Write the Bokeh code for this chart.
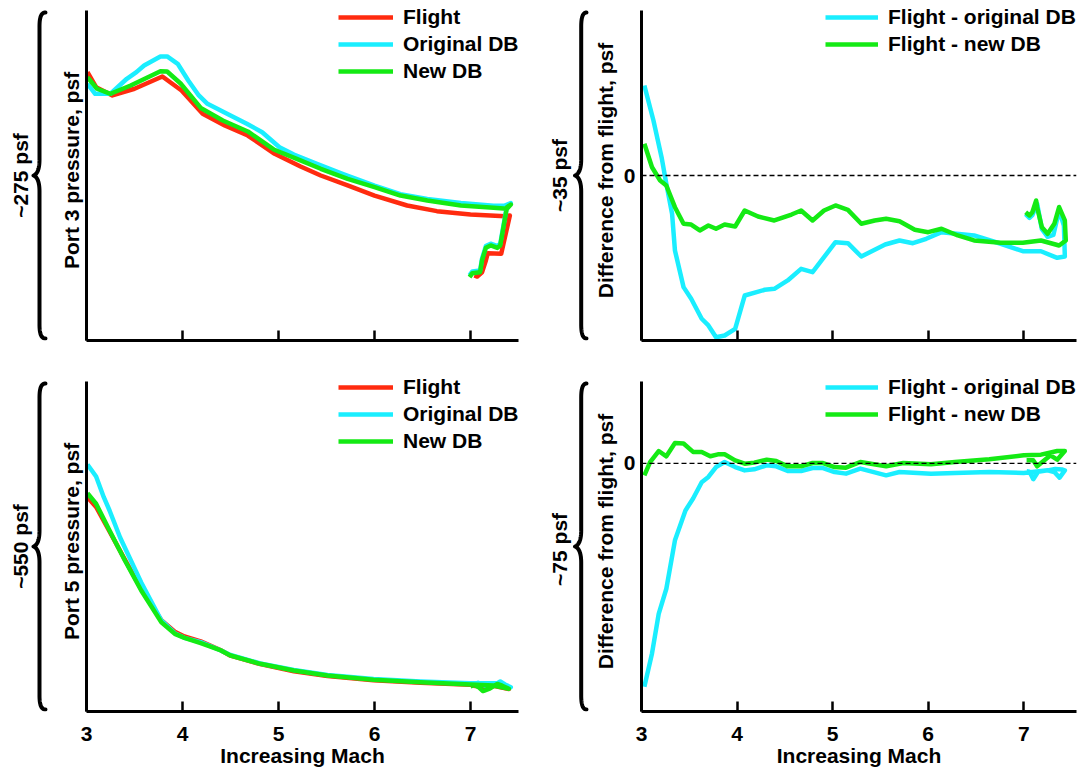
import numpy as np
from bokeh.plotting import figure
from bokeh.layouts import row, column
from bokeh.models import Span, Legend, LegendItem, FixedTicker, Range1d
from bokeh.core.properties import value
from bokeh.embed import file_html
from bokeh.resources import INLINE

# ---------------- data ----------------
mach_ticks = [3, 4, 5, 6, 7]

# Port 3 pressure, psf (span ~275 psf)
p3_flight_m = [3.01, 3.10, 3.27, 3.50, 3.79, 3.99, 4.21, 4.44, 4.68, 4.96, 5.23, 5.44, 5.72, 6.00, 6.34, 6.65,
               7.00, 7.36, 7.41, 7.32, 7.18, 7.16, 7.12, 7.07, 7.04]
p3_flight = [223.6, 211.1, 204.2, 209.8, 220.0, 208.3, 188.9, 179.2, 170.8, 155.6, 145.0, 137.5, 129.2, 120.8,
             112.5, 107.8, 105.0, 103.6, 104.2, 72.2, 72.8, 66.7, 56.9, 53.3, 54.2]

p3_orig_m = [3.01, 3.09, 3.25, 3.42, 3.52, 3.60, 3.77, 3.84, 3.95, 4.06, 4.17, 4.26, 4.50, 4.67, 4.83, 5.01,
             5.16, 5.40, 5.68, 6.00, 6.27, 6.55, 6.90, 7.24, 7.35, 7.42, 7.38, 7.31, 7.28, 7.21, 7.16, 7.12,
             7.10, 7.02, 6.99]
p3_orig = [213.9, 205.6, 205.6, 218.1, 223.6, 229.2, 236.7, 236.7, 230.6, 216.7, 204.2, 197.2, 187.5, 180.6,
           173.6, 161.1, 155.0, 147.2, 138.5, 129.0, 122.0, 118.0, 114.5, 112.3, 112.3, 114.5, 112.5, 80.7,
           78.7, 80.7, 78.7, 68.2, 58.4, 57.6, 54.3]

p3_new_m = [3.01, 3.11, 3.25, 3.46, 3.64, 3.77, 3.84, 3.98, 4.19, 4.42, 4.68, 4.95, 5.19, 5.44, 5.72, 6.00,
            6.27, 6.55, 6.90, 7.24, 7.38, 7.42, 7.38, 7.31, 7.28, 7.21, 7.16, 7.12, 7.10, 7.02, 6.99]
p3_new = [219.4, 209.8, 205.6, 212.5, 219.4, 224.4, 224.2, 214.2, 193.8, 183.3, 174.2, 159.2, 151.4, 143.1,
          134.7, 127.8, 120.8, 116.7, 112.5, 110.6, 109.7, 113.3, 111.1, 79.2, 77.2, 79.2, 77.2, 66.7, 56.9,
          56.1, 52.8]

# Difference from flight at port 3, psf (span ~35 psf)
d3_orig_m = [3.03, 3.125, 3.21, 3.26, 3.32, 3.35, 3.44, 3.52, 3.63, 3.70, 3.78, 3.87, 3.98, 4.08, 4.29, 4.39,
             4.53, 4.67, 4.79, 4.91, 5.03, 5.16, 5.30, 5.55, 5.70, 5.84, 5.98, 6.14, 6.48, 6.76, 6.99, 7.18,
             7.35, 7.43, 7.42, 7.37, 7.31, 7.25, 7.19, 7.14, 7.09, 7.06, 7.02]
d3_orig = [9.54, 5.83, 1.94, -0.88, -4.06, -7.95, -11.84, -13.07, -15.19, -15.9, -17.15, -16.97, -16.26,
           -12.73, -12.12, -12.02, -11.13, -9.9, -10.25, -8.66, -7.07, -7.18, -8.59, -7.32, -6.89, -7.18,
           -6.71, -6.01, -6.36, -7.24, -8.03, -8.03, -8.73, -8.59, -5.3, -3.7, -6.3, -6.5, -5.7, -3.0, -4.2,
           -4.5, -4.1]

d3_new_m = [3.03, 3.11, 3.195, 3.26, 3.35, 3.44, 3.52, 3.61, 3.70, 3.78, 3.87, 3.98, 4.08, 4.22, 4.39, 4.57,
            4.67, 4.79, 4.91, 5.03, 5.16, 5.30, 5.44, 5.56, 5.70, 5.86, 6.00, 6.14, 6.31, 6.48, 6.76, 6.99,
            7.18, 7.37, 7.44, 7.43, 7.37, 7.32, 7.25, 7.19, 7.14, 7.13, 7.09, 7.06, 7.02]
d3_new = [3.36, 0.88, -0.53, -1.06, -3.36, -5.12, -5.2, -5.83, -5.3, -5.65, -5.2, -5.41, -3.71, -4.35, -4.77,
          -4.14, -3.71, -4.77, -3.71, -3.18, -3.64, -5.12, -4.77, -4.59, -4.85, -5.76, -6.01, -5.65, -6.36,
          -6.89, -7.14, -7.14, -6.89, -7.42, -6.89, -4.77, -3.36, -5.12, -6.18, -5.48, -3.36, -2.65, -3.89,
          -4.24, -3.89]

# Port 5 pressure, psf (span ~550 psf)
p5_flight_m = [3.01, 3.10, 3.24, 3.40, 3.57, 3.78, 3.92, 4.02, 4.19, 4.40, 4.50, 4.81, 5.16, 5.51, 5.99, 6.48,
               7.00, 7.24, 7.40, 7.33, 7.25, 7.15, 7.08, 7.03]
p5_flight = [357, 341, 300, 253, 204, 152, 133, 125, 117, 102, 93, 79, 67, 59, 52, 48, 44.5, 43, 37.5, 41, 43,
             40, 42, 43]

p5_orig_m = [3.01, 3.10, 3.18, 3.24, 3.35, 3.57, 3.78, 3.92, 4.02, 4.19, 4.40, 4.50, 4.81, 5.16, 5.51, 5.99,
             6.48, 7.00, 7.28, 7.42, 7.36, 7.31, 7.26, 7.15, 7.08, 7.04]
p5_orig = [411.7, 391.7, 357.2, 335.0, 290.0, 215.0, 151.7, 130.5, 122.8, 115.5, 101.7, 94.2, 80.0, 69.2,
           60.8, 54.2, 50.0, 47.2, 47.2, 40.5, 45, 50, 45, 43, 48, 44]

p5_new_m = [3.01, 3.10, 3.24, 3.40, 3.57, 3.78, 3.92, 4.02, 4.19, 4.40, 4.50, 4.81, 5.16, 5.51, 5.99, 6.48,
            7.00, 7.24, 7.40, 7.33, 7.28, 7.20, 7.13, 7.09, 7.04, 7.00]
p5_new = [363.8, 346.2, 301.7, 251.7, 201.7, 148.8, 129.5, 122.8, 113.8, 101.7, 93.3, 79.5, 68.3, 60.0, 52.8,
          48.8, 45.0, 43.3, 37.8, 43, 46, 38, 34, 40, 44, 42]

# Difference from flight at port 5, psf (span ~75 psf)
d5_orig_m = [3.03, 3.11, 3.18, 3.26, 3.35, 3.46, 3.54, 3.63, 3.70, 3.78, 3.87, 3.98, 4.08, 4.18, 4.31, 4.41,
             4.53, 4.67, 4.79, 4.90, 5.02, 5.14, 5.29, 5.56, 5.70, 6.03, 6.28, 6.64, 7.00, 7.25, 7.32, 7.375,
             7.43, 7.40, 7.33, 7.25, 7.15, 7.10, 7.06, 7.03]
d5_orig = [-50.8, -43.2, -34.2, -28.5, -17.5, -10.7, -8.0, -4.3, -3.1, -0.84, 0.3, -0.84, -1.6, -1.36, -0.45,
           -0.68, -1.75, -1.75, -1.07, -1.07, -1.98, -2.34, -1.2, -2.73, -1.98, -2.34, -2.2, -1.98, -2.2,
           -1.59, -1.98, -3.25, -1.59, -1.4, -1.3, -1.6, -1.9, -3.6, -1.9, -1.8]

d5_new_m = [3.03, 3.09, 3.18, 3.26, 3.35, 3.44, 3.54, 3.63, 3.72, 3.80, 3.87, 3.98, 4.08, 4.18, 4.31, 4.41,
            4.53, 4.67, 4.79, 4.90, 5.02, 5.14, 5.29, 5.56, 5.74, 6.03, 6.28, 6.64, 7.00, 7.18, 7.35, 7.43,
            7.35, 7.28, 7.14, 7.10, 7.03]
d5_new = [-2.73, 0.3, 2.8, 1.6, 4.6, 4.5, 2.6, 2.6, 1.6, 2.05, 2.05, 0.68, -0.07, 0.16, 0.84, 0.52, -0.68,
          -0.68, 0.07, 0.07, -0.84, -0.98, 0.3, -0.68, 0.07, -0.23, 0.3, 0.91, 1.82, 1.98, 2.8, 2.8, 0.84,
          1.82, -0.68, 0.68, 0.68]

# ---------------- styling ----------------
FONT = "Liberation Sans"
FS = "21px"
RED = "#ff2b0f"
CYAN = "#1aeeff"
GREEN = "#14ea14"
LW = 4.5
AXIS_H = 330          # height of the drawn axes
PAD_TOP = 10          # empty strip above the axes (inside the frame, room for the legend)
FRAME_H = AXIS_H + PAD_TOP

ROW1 = dict(h=371, top=0, bottom=31)
ROW2 = dict(h=401, top=0, bottom=61)

W_B1, W_L, W_B2, W_R = 48, 490, 52, 492
L_BORDER_L, L_BORDER_R = 38, 20
R_BORDER_L, R_BORDER_R = 49, 6


def make_panel(width, rowcfg, mbl, mbr, x_end, y_lo, y_hi, y_label, y_ticks, show_x_labels):
    y_top = y_lo + (y_hi - y_lo) * FRAME_H / AXIS_H
    p = figure(width=width, height=rowcfg["h"], x_range=Range1d(3, x_end), y_range=Range1d(y_lo, y_top),
               output_backend="svg", toolbar_location=None,
               min_border_left=mbl, min_border_right=mbr,
               min_border_top=rowcfg["top"], min_border_bottom=rowcfg["bottom"])
    p.grid.visible = False
    p.outline_line_color = None
    xa = p.xaxis[0]
    ya = p.yaxis[0]
    xa.ticker = FixedTicker(ticks=mach_ticks)
    xa.major_tick_in = 10
    xa.major_tick_out = 0
    xa.minor_tick_in = 0
    xa.minor_tick_out = 0
    xa.axis_line_width = 3
    xa.major_tick_line_width = 2.5
    xa.major_label_text_font = FONT
    xa.major_label_text_font_size = FS
    xa.major_label_text_font_style = "bold"
    xa.major_label_text_color = "black"
    if show_x_labels:
        xa.major_label_standoff = 15
        xa.axis_label = "Increasing Mach"
        xa.axis_label_text_font = FONT
        xa.axis_label_text_font_size = FS
        xa.axis_label_text_font_style = "bold"
        xa.axis_label_text_color = "black"
        xa.axis_label_standoff = 0
    else:
        xa.major_label_standoff = 6
        xa.major_label_text_color = None
    ya.bounds = (y_lo, y_hi)
    ya.ticker = FixedTicker(ticks=y_ticks)
    ya.major_tick_in = 0
    ya.major_tick_out = 0
    ya.minor_tick_in = 0
    ya.minor_tick_out = 0
    ya.axis_line_width = 3
    ya.major_label_text_font = FONT
    ya.major_label_text_font_size = FS
    ya.major_label_text_font_style = "bold"
    ya.major_label_text_color = "black"
    ya.major_label_standoff = 6
    ya.axis_label = y_label
    ya.axis_label_text_font = FONT
    ya.axis_label_text_font_size = FS
    ya.axis_label_text_font_style = "bold"
    ya.axis_label_text_color = "black"
    ya.axis_label_standoff = 4
    return p


def add_legend(p, items, vx, first_row_from_axis_top, glyph_w, standoff):
    item_h = 24
    gap = 3
    n = len(items)
    total = n * item_h + (n - 1) * gap
    top_off = PAD_TOP + first_row_from_axis_top - item_h / 2
    vy = FRAME_H - (top_off + total)
    leg = Legend(items=[LegendItem(label=lab, renderers=[r]) for lab, r in items],
                 location=(vx, vy), orientation="vertical",
                 glyph_width=glyph_w, glyph_height=20, label_height=20, label_standoff=standoff,
                 spacing=gap, padding=0, margin=0, border_line_color=None, background_fill_alpha=0,
                 label_text_font=FONT, label_text_font_size=FS, label_text_font_style="bold",
                 label_text_color="black")
    p.add_layout(leg)


def cubic(p0, p1, p2, p3, n=24):
    t = np.linspace(0, 1, n)[:, None]
    p0, p1, p2, p3 = (np.array(v, dtype=float) for v in (p0, p1, p2, p3))
    return (1 - t) ** 3 * p0 + 3 * (1 - t) ** 2 * t * p1 + 3 * (1 - t) * t ** 2 * p2 + t ** 3 * p3


def make_brace(width, rowcfg, stroke_x, curl_x, tip_x, text_x, text):
    b = figure(width=width, height=rowcfg["h"], x_range=Range1d(0, width), y_range=Range1d(0, FRAME_H),
               x_axis_type=None, y_axis_type=None, output_backend="svg", toolbar_location=None,
               min_border_left=0, min_border_right=0,
               min_border_top=rowcfg["top"], min_border_bottom=rowcfg["bottom"])
    b.grid.visible = False
    b.outline_line_color = None
    H = AXIS_H
    m = H / 2
    segs = [
        cubic((curl_x, H - 2), (stroke_x + 2, H - 2), (stroke_x, H - 6), (stroke_x, H - 16)),
        cubic((stroke_x, m + 16), (stroke_x, m + 5), (tip_x + 3, m + 1), (tip_x, m)),
        cubic((tip_x, m), (tip_x + 3, m - 1), (stroke_x, m - 5), (stroke_x, m - 16)),
        cubic((stroke_x, 16), (stroke_x, 6), (stroke_x + 2, 2), (curl_x, 2)),
    ]
    pts = np.vstack(segs)
    b.line(pts[:, 0], pts[:, 1], line_width=4, line_color="black", line_cap="round", line_join="round")
    b.text(x=[text_x], y=[m], text=[text], angle=np.pi / 2, text_align="center", text_baseline="middle",
           text_font=value(FONT), text_font_size=FS, text_font_style="bold", text_color="black")
    return b


def zero_line(p):
    p.add_layout(Span(location=0, dimension="width", line_color="black", line_width=1.3, line_dash="5 3"))


L_XEND = 7.5
R_XEND = 3 + 437 / 96

# ---- top-left: port 3 ----
tl = make_panel(W_L, ROW1, L_BORDER_L, L_BORDER_R, L_XEND, 0, 275, "Port 3 pressure, psf", [], False)
r1 = tl.line(p3_flight_m, p3_flight, line_color=RED, line_width=LW, line_join="round")
r2 = tl.line(p3_orig_m, p3_orig, line_color=CYAN, line_width=LW, line_join="round")
r3 = tl.line(p3_new_m, p3_new, line_color=GREEN, line_width=LW, line_join="round")
add_legend(tl, [("Flight", r1), ("Original DB", r2), ("New DB", r3)], 252, 7, 55, 10)

# ---- top-right: port 3 difference ----
tr = make_panel(W_R, ROW1, R_BORDER_L, R_BORDER_R, R_XEND, -17.5, 17.5, "Difference from flight, psf", [0], False)
zero_line(tr)
s1 = tr.line(d3_orig_m, d3_orig, line_color=CYAN, line_width=LW, line_join="round")
s2 = tr.line(d3_new_m, d3_new, line_color=GREEN, line_width=LW, line_join="round")
add_legend(tr, [("Flight - original DB", s1), ("Flight - new DB", s2)], 184, 7, 53, 10)

# ---- bottom-left: port 5 ----
bl = make_panel(W_L, ROW2, L_BORDER_L, L_BORDER_R, L_XEND, 0, 550, "Port 5 pressure, psf", [], True)
q1 = bl.line(p5_flight_m, p5_flight, line_color=RED, line_width=LW, line_join="round")
q2 = bl.line(p5_orig_m, p5_orig, line_color=CYAN, line_width=LW, line_join="round")
q3 = bl.line(p5_new_m, p5_new, line_color=GREEN, line_width=LW, line_join="round")
add_legend(bl, [("Flight", q1), ("Original DB", q2), ("New DB", q3)], 252, 6, 55, 10)

# ---- bottom-right: port 5 difference ----
br = make_panel(W_R, ROW2, R_BORDER_L, R_BORDER_R, R_XEND, -56.4, 18.6, "Difference from flight, psf", [0], True)
zero_line(br)
t1 = br.line(d5_orig_m, d5_orig, line_color=CYAN, line_width=LW, line_join="round")
t2 = br.line(d5_new_m, d5_new, line_color=GREEN, line_width=LW, line_join="round")
add_legend(br, [("Flight - original DB", t1), ("Flight - new DB", t2)], 184, 6, 53, 10)

# ---- braces ----
b1 = make_brace(W_B1, ROW1, 39, 45, 33, 20, "~275 psf")
b2 = make_brace(W_B2, ROW1, 42.7, 48, 36.5, 21, "~35 psf")
b3 = make_brace(W_B1, ROW2, 39, 45, 33, 20, "~550 psf")
b4 = make_brace(W_B2, ROW2, 42.7, 48, 36.5, 21, "~75  psf")

layout = column(row(b1, tl, b2, tr), row(b3, bl, b4, br))

with open("out.html", "w") as f:
    f.write(file_html(layout, INLINE))
